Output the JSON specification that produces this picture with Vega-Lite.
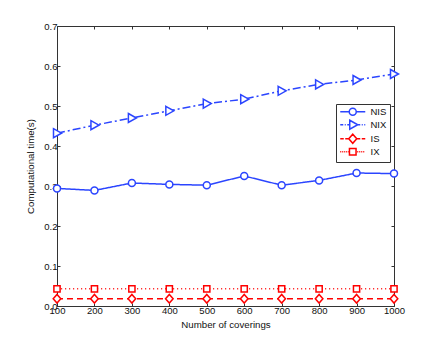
{
  "$schema": "https://vega.github.io/schema/vega-lite/v6.json",
  "autosize": {"type": "none"},
  "width": 337,
  "height": 280,
  "padding": {"left": 57, "top": 26, "right": 42, "bottom": 39},
  "background": "white",
  "config": {
    "view": {"stroke": "#333", "strokeWidth": 1},
    "font": "Liberation Sans",
    "axis": {"grid": false, "domain": false, "tickColor": "#333", "tickSize": -3, "labelFont": "Liberation Sans", "labelFontSize": 9.5, "labelColor": "#111", "titleFont": "Liberation Sans", "titleFontSize": 9.7, "titleFontWeight": "normal", "titleColor": "#111"}
  },
  "data": {"values": [
    {"n": 100, "series": "NIS", "t": 0.294}, {"n": 200, "series": "NIS", "t": 0.289}, {"n": 300, "series": "NIS", "t": 0.3075}, {"n": 400, "series": "NIS", "t": 0.304}, {"n": 500, "series": "NIS", "t": 0.302},
    {"n": 600, "series": "NIS", "t": 0.325}, {"n": 700, "series": "NIS", "t": 0.302}, {"n": 800, "series": "NIS", "t": 0.314}, {"n": 900, "series": "NIS", "t": 0.3325}, {"n": 1000, "series": "NIS", "t": 0.331},
    {"n": 100, "series": "NIX", "t": 0.432}, {"n": 200, "series": "NIX", "t": 0.452}, {"n": 300, "series": "NIX", "t": 0.47}, {"n": 400, "series": "NIX", "t": 0.488}, {"n": 500, "series": "NIX", "t": 0.506},
    {"n": 600, "series": "NIX", "t": 0.517}, {"n": 700, "series": "NIX", "t": 0.538}, {"n": 800, "series": "NIX", "t": 0.554}, {"n": 900, "series": "NIX", "t": 0.565}, {"n": 1000, "series": "NIX", "t": 0.58},
    {"n": 100, "series": "IS", "t": 0.018}, {"n": 200, "series": "IS", "t": 0.018}, {"n": 300, "series": "IS", "t": 0.018}, {"n": 400, "series": "IS", "t": 0.018}, {"n": 500, "series": "IS", "t": 0.018},
    {"n": 600, "series": "IS", "t": 0.018}, {"n": 700, "series": "IS", "t": 0.018}, {"n": 800, "series": "IS", "t": 0.018}, {"n": 900, "series": "IS", "t": 0.018}, {"n": 1000, "series": "IS", "t": 0.018},
    {"n": 100, "series": "IX", "t": 0.043}, {"n": 200, "series": "IX", "t": 0.043}, {"n": 300, "series": "IX", "t": 0.043}, {"n": 400, "series": "IX", "t": 0.043}, {"n": 500, "series": "IX", "t": 0.043},
    {"n": 600, "series": "IX", "t": 0.043}, {"n": 700, "series": "IX", "t": 0.043}, {"n": 800, "series": "IX", "t": 0.043}, {"n": 900, "series": "IX", "t": 0.043}, {"n": 1000, "series": "IX", "t": 0.043}
  ]},
  "resolve": {"scale": {"shape": "independent", "stroke": "independent"}, "legend": {"shape": "independent", "stroke": "independent"}, "axis": {"x": "independent", "y": "independent"}},
  "layer": [
    {
      "mark": {"type": "line", "strokeWidth": 1.5},
      "encoding": {
        "x": {"field": "n", "type": "quantitative", "scale": {"domain": [100, 1000], "nice": false, "zero": false},
              "axis": {"orient": "bottom", "values": [100, 200, 300, 400, 500, 600, 700, 800, 900, 1000], "format": "d", "title": "Number of coverings", "labelPadding": 2, "titlePadding": 5, "labelFlush": false}},
        "y": {"field": "t", "type": "quantitative", "scale": {"domain": [0, 0.7], "nice": false},
              "axis": {"orient": "left", "values": [0, 0.1, 0.2, 0.3, 0.4, 0.5, 0.6, 0.7], "title": "Computational time(s)", "labelPadding": 3, "titlePadding": 8}},
        "color": {"field": "series", "type": "nominal", "scale": {"domain": ["NIS", "NIX", "IS", "IX"], "range": ["#2b45ff", "#2b45ff", "#ff0000", "#ff3030"]}, "legend": null},
        "strokeDash": {"field": "series", "type": "nominal", "scale": {"domain": ["NIS", "NIX", "IS", "IX"], "range": [[1, 0], [8, 3, 2, 3], [6, 4], [1.2, 2.8]]}, "legend": null}
      }
    },
    {
      "mark": {"type": "point", "fill": "white", "fillOpacity": 1, "opacity": 1, "strokeWidth": 1.5, "size": 4},
      "encoding": {
        "x": {"field": "n", "type": "quantitative", "axis": null},
        "y": {"field": "t", "type": "quantitative", "axis": null},
        "stroke": {"field": "series", "type": "nominal", "scale": {"domain": ["NIS", "NIX", "IS", "IX"], "range": ["#2b45ff", "#2b45ff", "#ff0000", "#ff0000"]}, "legend": null},
        "shape": {"field": "series", "type": "nominal", "scale": {"domain": ["NIS", "NIX", "IS", "IX"], "range": [
          "M3.5,0A3.5,3.5 0 1,1 -3.5,0A3.5,3.5 0 1,1 3.5,0Z",
          "M-3.5,-4.5L4.5,0L-3.5,4.5Z",
          "M-3.8,0L0,-4.3L3.8,0L0,4.3Z",
          "M-3.1,-3.1L3.1,-3.1L3.1,3.1L-3.1,3.1Z"]}, "legend": null}
      }
    },
    {
      "mark": {"type": "point", "opacity": 0, "size": 4},
      "encoding": {
        "x": {"field": "n", "type": "quantitative", "axis": {"orient": "top", "values": [100, 200, 300, 400, 500, 600, 700, 800, 900, 1000], "labels": false, "title": null}},
        "y": {"field": "t", "type": "quantitative", "axis": {"orient": "right", "values": [0, 0.1, 0.2, 0.3, 0.4, 0.5, 0.6, 0.7], "labels": false, "title": null}},
        "stroke": {"field": "series", "type": "nominal", "scale": {"domain": ["NIS", "NIX", "IS", "IX"], "range": ["#2b45ff", "#2b45ff", "#ff0000", "#ff0000"]},
          "legend": {
            "title": null, "orient": "none", "legendX": 279, "legendY": 78,
            "symbolSize": 4, "symbolOffset": 9, "labelOffset": 13, "rowPadding": -2,
            "padding": 3, "strokeColor": "#333", "fillColor": "white",
            "labelFont": "Liberation Sans", "labelFontSize": 9.5, "labelColor": "#111",
            "symbolStrokeWidth": 1.5, "symbolOpacity": 1, "symbolFillColor": "white"
          }},
        "shape": {"field": "series", "type": "nominal", "scale": {"domain": ["NIS", "NIX", "IS", "IX"], "range": [
          "M-12.5,0L-3.5,0M3.5,0L12.5,0M3.5,0A3.5,3.5 0 1,1 -3.5,0A3.5,3.5 0 1,1 3.5,0Z",
          "M-12.5,0L-9.5,0M-8,0L-7,0M-5.5,0L-3,0M5,0L7.5,0M9,0L10,0M11.5,0L12.5,0M-3,-4.5L5,0L-3,4.5Z",
          "M-12.5,0L-9,0M-7.5,0L-4,0M4,0L7.5,0M9,0L12.5,0M-4,0L0,-4.5L4,0L0,4.5Z",
          "M-12.5,0L-11.5,0M-10.5,0L-9.5,0M-8.5,0L-7.5,0M-6.5,0L-5.5,0M-4.5,0L-4,0M4.5,0L5.5,0M6.5,0L7.5,0M8.5,0L9.5,0M10.5,0L11.5,0M-3.3,-3.3L3.3,-3.3L3.3,3.3L-3.3,3.3Z"]},
          "legend": {
            "title": null, "orient": "none", "legendX": 279, "legendY": 78,
            "symbolSize": 4, "symbolOffset": 9, "labelOffset": 13, "rowPadding": -2,
            "padding": 3, "strokeColor": "#333", "fillColor": "white",
            "labelFont": "Liberation Sans", "labelFontSize": 9.5, "labelColor": "#111",
            "symbolStrokeWidth": 1.5, "symbolOpacity": 1, "symbolFillColor": "white"
          }}
      }
    }
  ]
}
